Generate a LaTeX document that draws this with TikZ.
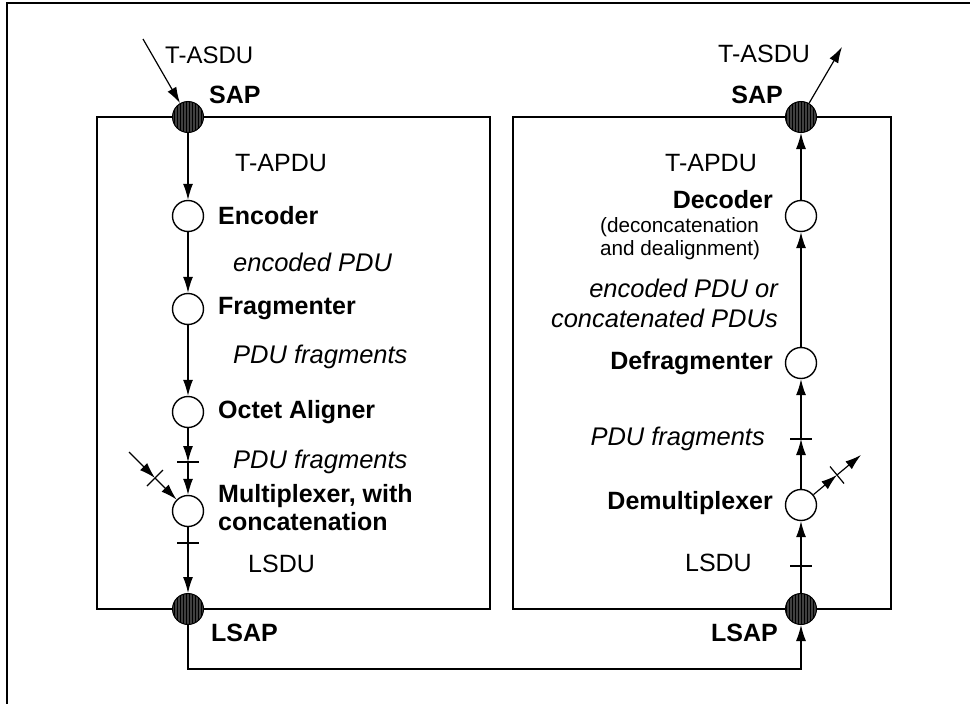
\documentclass[tikz,border=0pt]{standalone}
\usepackage{fontspec}
\setmainfont{Liberation Sans}
\usetikzlibrary{arrows.meta,patterns}
\begin{document}
\begin{tikzpicture}[x=1pt,y=-1pt,
  arr/.style={line width=1.2pt,-{Latex[length=16pt,width=10pt]}},
  wire/.style={line width=1.2pt},
  box/.style={line width=2pt},
  sap/.style={circle,draw,line width=1pt,minimum size=31pt,inner sep=0pt,
              preaction={fill=black!75},pattern=vertical lines},
  proc/.style={circle,draw,fill=white,line width=1.4pt,minimum size=31pt,inner sep=0pt},
  lbl/.style={inner sep=0pt,font=\fontsize{25}{28}\selectfont},
  bld/.style={inner sep=0pt,font=\fontsize{25}{28}\selectfont\bfseries},
  itl/.style={inner sep=0pt,font=\fontsize{25.5}{28}\selectfont\itshape},
  small/.style={inner sep=0pt,font=\fontsize{20.7}{24}\selectfont},
]
\useasboundingbox (0,0) rectangle (970,704);

% outer frame and the two entity boxes
\draw[box] (7,704) -- (7,3) -- (970,3);
\draw[box] (97,117) rectangle (490,609);
\draw[box] (513,117) rectangle (891,609);

% service access points
\node[sap] (sapL)  at (188,117) {};
\node[sap] (lsapL) at (188,609) {};
\node[sap] (sapR)  at (801,117) {};
\node[sap] (lsapR) at (801,609) {};

% sending side functions
\node[proc] (enc)  at (188,216) {};
\node[proc] (frag) at (188,309) {};
\node[proc] (oct)  at (188,412) {};
\node[proc] (mux)  at (188,511) {};

% receiving side functions
\node[proc] (dec)    at (801,216) {};
\node[proc] (defrag) at (801,363) {};
\node[proc] (demux)  at (801,505) {};

% helper points
\coordinate (inL)  at (143,39);
\coordinate (outR) at (842,47);
\coordinate (t1) at (188,462);
\coordinate (t2) at (188,543);
\coordinate (t3) at (801,566);
\coordinate (t4) at (801,439);
\coordinate (din) at (129,452);
\coordinate (tin) at (155,478);
\coordinate (tout) at (837,475);
\coordinate (dout) at (861,455);
\coordinate (bl) at (188,669);
\coordinate (br) at (801,669);

% sending chain
\draw[arr] (inL) -- (sapL);
\draw[arr] (sapL) -- (enc);
\draw[arr] (enc) -- (frag);
\draw[arr] (frag) -- (oct);
\draw[arr] (oct) -- (t1);
\draw[arr] (t1) -- (mux);
\draw[arr] (din) -- (tin);
\draw[arr] (tin) -- (mux);
\draw[wire] (mux) -- (t2);
\draw[arr] (t2) -- (lsapL);

% lower layer link
\draw[arr] (lsapL) -- (bl) -- (br) -- (lsapR);

% receiving chain
\draw[wire] (lsapR) -- (t3);
\draw[arr] (t3) -- (demux);
\draw[arr] (demux) -- (t4);
\draw[arr] (t4) -- (defrag);
\draw[arr] (defrag) -- (dec);
\draw[arr] (dec) -- (sapR);
\draw[arr] (sapR) -- (outR);
\draw[arr] (demux) -- (tout);
\draw[arr] (tout) -- (dout);

% ticks across the data paths
\draw[wire] ([xshift=-11pt]t1) -- ([xshift=11pt]t1);
\draw[wire] ([xshift=-11pt]t2) -- ([xshift=11pt]t2);
\draw[wire] ([xshift=-11pt]t3) -- ([xshift=11pt]t3);
\draw[wire] ([xshift=-11pt]t4) -- ([xshift=11pt]t4);
\draw[wire] ([shift={(-8,8)}]tin) -- ([shift={(8,-8)}]tin);
\draw[wire] ([shift={(-7,-8.5)}]tout) -- ([shift={(7,8.5)}]tout);

% labels, sending side
\node[lbl,anchor=west,font=\fontsize{24}{28}\selectfont] at (165,55) {T-ASDU};
\node[bld,anchor=west] at (209,95) {SAP};
\node[lbl,anchor=west] at (235,163) {T-APDU};
\node[bld,anchor=west] at (218,216) {Encoder};
\node[itl,anchor=west] at (233,262) {encoded PDU};
\node[bld,anchor=west] at (218,309) {Fragmenter};
\node[itl,anchor=west] at (233,357) {PDU fragments};
\node[bld,anchor=west] at (218,412) {Octet Aligner};
\node[itl,anchor=west] at (233,462) {PDU fragments};
\node[bld,anchor=west] at (218,496) {Multiplexer, with};
\node[bld,anchor=west] at (218,522) {concatenation};
\node[lbl,anchor=west] at (248,564) {LSDU};
\node[bld,anchor=west] at (211,633) {LSAP};

% labels, receiving side
\node[lbl,anchor=west] at (718,54) {T-ASDU};
\node[bld,anchor=east] at (783,95) {SAP};
\node[lbl,anchor=east] at (757,163) {T-APDU};
\node[bld,anchor=east] at (773,200) {Decoder};
\node[small,anchor=west] at (600,227) {(deconcatenation};
\node[small,anchor=west] at (600,250) {and dealignment)};
\node[itl,anchor=east] at (778,288) {encoded PDU or};
\node[itl,anchor=east] at (778,318) {concatenated PDUs};
\node[bld,anchor=east] at (773,363) {Defragmenter};
\node[itl,anchor=east] at (765,439) {PDU fragments};
\node[bld,anchor=east] at (773,503) {Demultiplexer};
\node[lbl,anchor=east] at (752,563) {LSDU};
\node[bld,anchor=east] at (778,633) {LSAP};
\end{tikzpicture}
\end{document}
